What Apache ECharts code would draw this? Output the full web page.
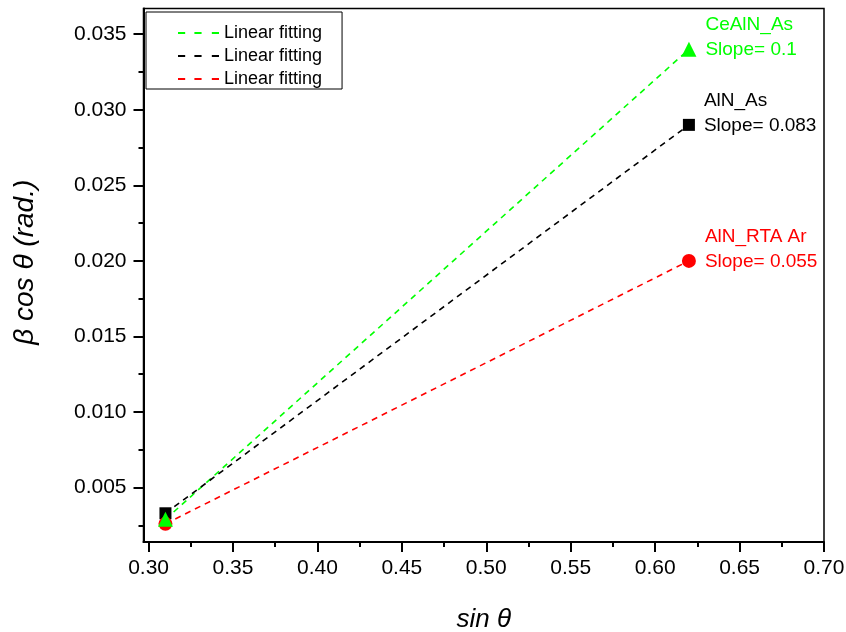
<!DOCTYPE html>
<html><head><meta charset="utf-8">
<script src="https://cdn.jsdelivr.net/npm/echarts@6/dist/echarts.min.js"></script>
<style>html,body{margin:0;padding:0;background:#fff}#c{width:846px;height:632px}</style>
</head><body><div id="c"></div>
<script>
const xValues = [0.31, 0.62];
const ceAlnAs = [0.0029, 0.034];
const alnAs = [0.0033, 0.029];
const alnRtaAr = [0.0026, 0.020];
const sampleNames = ['CeAlN_As', 'AlN_As', 'AlN_RTA Ar'];
const slopeTexts = ['0.1', '0.083', '0.055'];
const fitLabel = 'Linear fitting';
const xMajorTicks = [0.30, 0.35, 0.40, 0.45, 0.50, 0.55, 0.60, 0.65, 0.70];
const xMinorTicks = [0.325, 0.375, 0.425, 0.475, 0.525, 0.575, 0.625, 0.675];
const yMajorTicks = [0.005, 0.010, 0.015, 0.020, 0.025, 0.030, 0.035];
const yMinorTicks = [0.0025, 0.0075, 0.0125, 0.0175, 0.0225, 0.0275, 0.0325];

const FONT = '"Liberation Sans", Arial, sans-serif';
const colors = ['#00ff00', '#000000', '#ff0000'];
const symbols = ['triangle', 'rect', 'circle'];
const symbolSizes = [15, 12, 14];
const allY = [ceAlnAs, alnAs, alnRtaAr];
const X_MIN = 0.297, X_MAX = 0.70, Y_MIN = 0.0014, Y_MAX = 0.0367;
const DASH_ICON = 'path://M0,0h7v1.8h-7z M16,0h7v1.8h-7z M33,0h7v1.8h-7z';

const chart = echarts.init(document.getElementById('c'), null, {renderer: 'canvas'});

const lineSeries = allY.map((ys, i) => ({
  name: 'fit' + i,
  type: 'line',
  data: xValues.map((x, j) => [x, ys[j]]),
  showSymbol: false,
  symbol: 'none',
  lineStyle: {color: colors[i], width: 1.6, type: [6, 5]},
  itemStyle: {color: colors[i]},
  z: 2,
  silent: true
}));

const zOrder = [5, 3, 4];
const scatterSeries = allY.map((ys, i) => ({
  name: sampleNames[i],
  type: 'scatter',
  symbol: symbols[i],
  symbolSize: symbolSizes[i],
  itemStyle: {color: colors[i], opacity: 1},
  z: zOrder[i],
  data: xValues.map((x, j) => {
    const item = {value: [x, ys[j]]};
    if (j === xValues.length - 1) {
      item.label = {
        show: true,
        position: 'right',
        distance: 9,
        offset: [0, -12],
        align: 'left',
        formatter: sampleNames[i] + '\nSlope= ' + slopeTexts[i],
        color: colors[i],
        fontSize: 19,
        lineHeight: 25,
        fontFamily: FONT
      };
    }
    return item;
  })
}));

const tickStyle = {color: '#000', width: 2};

chart.setOption({
  animation: false,
  backgroundColor: '#fff',
  grid: {left: 143.5, right: 22, top: 8.5, bottom: 90, show: true, borderColor: '#000', borderWidth: 1.5, containLabel: false, outerBoundsMode: 'none'},
  legend: {
    data: ['fit0', 'fit1', 'fit2'].map(n => ({name: n, icon: DASH_ICON})),
    formatter: () => fitLabel,
    orient: 'vertical',
    left: 146, top: 12,
    padding: [12, 20, 1, 32],
    itemGap: 5,
    itemWidth: 41, itemHeight: 2,
    borderColor: '#000', borderWidth: 1,
    backgroundColor: '#fff',
    textStyle: {fontSize: 18, color: '#000', fontFamily: FONT, lineHeight: 18},
    selectedMode: false
  },
  xAxis: [{
    type: 'value', min: X_MIN, max: X_MAX,
    axisLine: {show: true, onZero: false, lineStyle: tickStyle},
    axisTick: {show: true, customValues: xMajorTicks, length: 10, lineStyle: tickStyle},
    axisLabel: {customValues: xMajorTicks, formatter: v => v.toFixed(2), fontSize: 21, color: '#000', margin: 16, fontFamily: FONT},
    splitLine: {show: false},
    name: 'sin θ', nameLocation: 'middle', nameGap: 65,
    nameTextStyle: {fontStyle: 'italic', fontSize: 26, color: '#000', fontFamily: FONT}
  }, {
    type: 'value', min: X_MIN, max: X_MAX, position: 'bottom', offset: 0,
    axisLine: {show: false},
    axisTick: {show: true, customValues: xMinorTicks, length: 5, lineStyle: tickStyle},
    axisLabel: {show: false},
    splitLine: {show: false}
  }],
  yAxis: [{
    type: 'value', min: Y_MIN, max: Y_MAX,
    axisLine: {show: true, onZero: false, lineStyle: tickStyle},
    axisTick: {show: true, customValues: yMajorTicks, length: 10, lineStyle: tickStyle},
    axisLabel: {customValues: yMajorTicks, formatter: v => v.toFixed(3), fontSize: 21, color: '#000', margin: 17, fontFamily: FONT},
    splitLine: {show: false},
    name: 'β cos θ (rad.)', nameLocation: 'middle', nameGap: 104,
    nameTextStyle: {fontStyle: 'italic', fontSize: 28, color: '#000', fontFamily: FONT, padding: [0, 0, 0, 26]}
  }, {
    type: 'value', min: Y_MIN, max: Y_MAX, position: 'left', offset: 0,
    axisLine: {show: false},
    axisTick: {show: true, customValues: yMinorTicks, length: 5, lineStyle: tickStyle},
    axisLabel: {show: false},
    splitLine: {show: false}
  }],
  series: lineSeries.concat([scatterSeries[1], scatterSeries[2], scatterSeries[0]])
});
</script>
</body></html>
